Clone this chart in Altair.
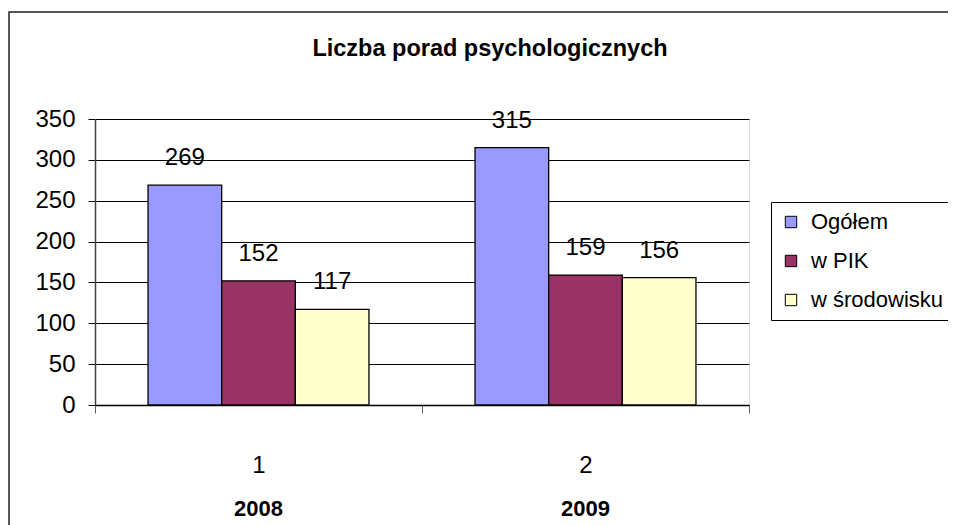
import altair as alt
import pandas as pd

categories = ["1", "2"]
years = ["2008", "2009"]
series = ["Ogółem", "w PIK", "w środowisku"]
ogolem = [269, 315]
w_pik = [152, 159]
w_srodowisku = [117, 156]
colors = ["#9999FF", "#993366", "#FFFFCC"]
chart_title = "Liczba porad psychologicznych"

rows = []
for i, c in enumerate(categories):
    for s, vals in zip(series, [ogolem, w_pik, w_srodowisku]):
        rows.append({"kat": c, "seria": s, "wartosc": vals[i]})
df = pd.DataFrame(rows)
years_df = pd.DataFrame({"kat": categories, "rok": years})
one_df = pd.DataFrame({"t": [chart_title]})

FONT = "Liberation Sans"
W, H = 654, 286

xscale = alt.Scale(domain=categories, paddingInner=0, paddingOuter=0)
xoff = alt.Scale(domain=series, paddingInner=0, paddingOuter=0.72)
yscale = alt.Scale(domain=[0, 350], nice=False)

base = alt.Chart(df)

bars = base.mark_bar(stroke="black", strokeWidth=1.3).encode(
    x=alt.X("kat:N", scale=xscale, sort=categories,
            axis=alt.Axis(title=None, labelAngle=0, labelFont=FONT, labelFontSize=24,
                          labelColor="black", labelPadding=40, tickSize=8, tickColor="#606060",
                          tickBand="extent", domainColor="black", domainWidth=1.5,
                          labelBaseline="top")),
    xOffset=alt.XOffset("seria:N", scale=xoff, sort=series),
    y=alt.Y("wartosc:Q", scale=yscale,
            axis=alt.Axis(title=None, values=list(range(0, 351, 50)), labelFont=FONT,
                          labelFontSize=24, labelColor="black", labelPadding=13,
                          tickSize=7, tickColor="black", domainColor="#404040",
                          domainWidth=1.5, grid=True, gridColor="black", gridWidth=1)),
    color=alt.Color("seria:N", sort=series,
                    scale=alt.Scale(domain=series, range=colors),
                    legend=alt.Legend(title=None, orient="none", legendX=676, legendY=83,
                                      strokeColor="black", padding=9, symbolType="square",
                                      symbolSize=130, symbolStrokeColor="black",
                                      symbolStrokeWidth=1, labelFont=FONT, labelFontSize=22,
                                      labelColor="black", rowPadding=17, labelOffset=9,
                                      fillColor="white")),
)

labels = base.mark_text(font=FONT, fontSize=24, color="black", baseline="alphabetic",
                        dy=-20).encode(
    x=alt.X("kat:N", scale=xscale, sort=categories),
    xOffset=alt.XOffset("seria:N", scale=xoff, sort=series),
    y=alt.Y("wartosc:Q", scale=yscale),
    text=alt.Text("wartosc:Q"),
)

year_text = alt.Chart(years_df).mark_text(font=FONT, fontSize=22, fontWeight="bold",
                                          color="black", baseline="middle").encode(
    x=alt.X("kat:N", scale=xscale, sort=categories),
    y=alt.value(H + 104),
    text="rok:N",
)

title_text = alt.Chart(one_df).mark_text(font=FONT, fontSize=23.5, fontWeight="bold",
                                         color="black", baseline="alphabetic",
                                         align="center").encode(
    x=alt.value(395), y=alt.value(-63), text="t:N",
)

frame = alt.Chart(one_df).mark_rect(fill=None, stroke="#202020", strokeWidth=1.5).encode(
    x=alt.value(-86), x2=alt.value(900), y=alt.value(-107), y2=alt.value(H + 160),
)

chart = alt.layer(frame, bars, labels, year_text, title_text).properties(
    width=W, height=H,
    padding={"left": 87, "top": 111, "right": 199, "bottom": 120},
    autosize=alt.AutoSizeParams(type="none"),
).configure_view(fill="#C0C0C0", stroke="#808080", strokeWidth=2).configure(background="white")

chart.save("out.html", embed_options={"renderer": "svg", "actions": False})
